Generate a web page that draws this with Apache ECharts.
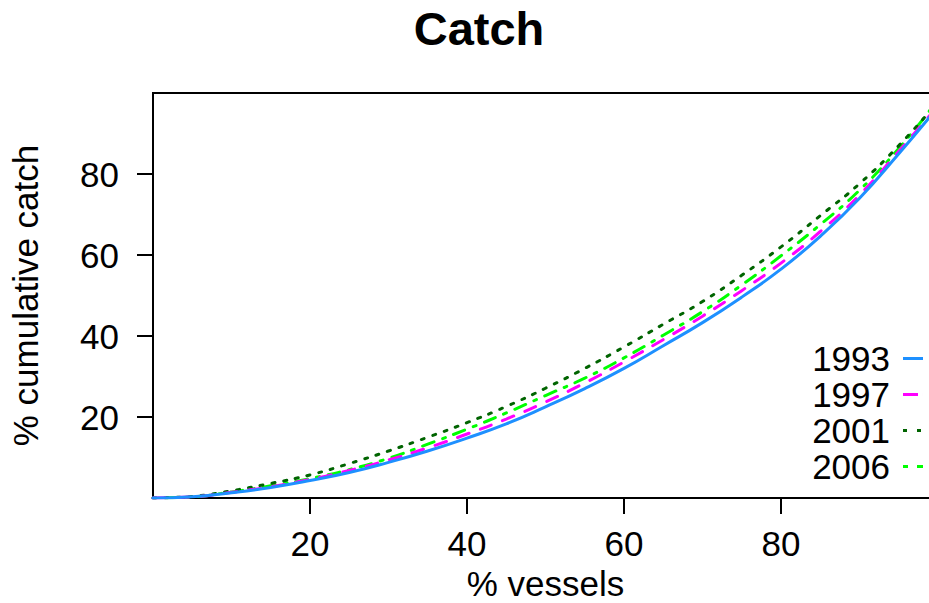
<!DOCTYPE html>
<html>
<head>
<meta charset="utf-8">
<script src="https://cdn.jsdelivr.net/npm/echarts@6/dist/echarts.min.js"></script>
<style>
html,body{margin:0;padding:0;background:#fff;}
#chart{width:929px;height:603px;}
</style>
</head>
<body>
<div id="chart"></div>
<script>
// % vessels (x positions of read points)
var xs = [0, 5, 10, 15, 20, 25, 30, 35, 40, 45, 50, 55, 60, 65, 70, 75, 80, 85, 90, 95, 99];
var y1993 = [0, 0.3, 1.3, 2.6, 4.3, 6.3, 8.8, 11.6, 14.8, 18.3, 22.5, 27.0, 32.0, 37.6, 43.3, 49.6, 56.5, 64.6, 74.0, 85.0, 94.2];
var y1997 = [0, 0.3, 1.4, 2.8, 4.6, 6.8, 9.4, 12.4, 15.8, 19.5, 23.7, 28.4, 33.6, 39.1, 44.9, 51.2, 58.0, 65.8, 74.8, 85.6, 94.6];
var y2001 = [0, 0.4, 1.8, 3.6, 5.7, 8.5, 11.6, 15.0, 18.6, 22.6, 27.1, 32.0, 37.3, 42.9, 48.5, 55.0, 62.0, 69.7, 77.6, 87.0, 95.6];
var y2006 = [0, 0.3, 1.5, 3.0, 4.8, 7.0, 9.8, 13.3, 17.0, 21.0, 25.3, 29.6, 34.6, 40.2, 46.0, 52.6, 59.8, 67.5, 76.0, 86.3, 95.8];
var seriesNames = ['1993', '1997', '2001', '2006'];
var tickValues = [20, 40, 60, 80];
var titleText = 'Catch';
var xName = '% vessels';
var yName = '% cumulative catch';

var FONT = "'Liberation Sans', Arial, Helvetica, sans-serif";
var colors = ['#1E90FF', '#FF00FF', '#006400', '#00FF00'];
var dashes = ['solid', [12, 12], [3, 9], [3, 9, 12, 9]];
// legend line samples (as in the reference: solid, one dash, two dots, two short dashes)
var legendIcons = [
  'path://M0,0h20v3h-20z',
  'path://M0,0h15v3h-15zM19.99,0h0.01v3h-0.01z',
  'path://M0,0h4v3h-4zM14,0h4v3h-4zM19.99,0h0.01v3h-0.01z',
  'path://M0,0h5v3h-5zM14,0h6v3h-6z'
];
var allY = [y1993, y1997, y2001, y2006];

function pairs(ys) { return xs.map(function (x, i) { return [x, ys[i]]; }); }

var series = seriesNames.map(function (n, i) {
  return {
    name: n, type: 'line', data: pairs(allY[i]),
    symbol: 'none', smooth: 0.5,
    lineStyle: { color: colors[i], width: 3, type: dashes[i], cap: 'round' },
    itemStyle: { color: colors[i] },
    z: 10 - i, animation: false
  };
});

var chart = echarts.init(document.getElementById('chart'), null, { renderer: 'svg' });
chart.setOption({
  animation: false,
  backgroundColor: '#ffffff',
  title: {
    text: titleText, left: 474, top: 0, textAlign: 'center',
    textStyle: { fontFamily: FONT, fontWeight: 'bold', fontSize: 47, color: '#000' }
  },
  grid: {
    left: 153, top: 93, right: -9, bottom: 105,
    outerBoundsMode: 'none', containLabel: false,
    show: true, borderColor: '#000', borderWidth: 2, backgroundColor: 'transparent'
  },
  legend: {
    orient: 'vertical', right: 6, top: 341, align: 'right',
    itemWidth: 20, itemHeight: 3, itemGap: 1, padding: 0,
    textStyle: { fontFamily: FONT, fontSize: 35, color: '#000', padding: [0, 8, 0, 0] },
    data: seriesNames.map(function (n, i) { return { name: n, icon: legendIcons[i] }; })
  },
  xAxis: {
    type: 'value', min: 0, max: 100, interval: 20,
    name: xName, nameLocation: 'middle', nameGap: 71,
    nameTextStyle: { fontFamily: FONT, fontSize: 35, color: '#000', lineHeight: 28 },
    splitLine: { show: false },
    axisLine: { show: true, lineStyle: { color: '#000', width: 2 } },
    axisTick: { show: true, length: 16, lineStyle: { color: '#000', width: 2 }, customValues: tickValues },
    axisLabel: { fontFamily: FONT, fontSize: 35, color: '#000', margin: 28, customValues: tickValues }
  },
  yAxis: {
    type: 'value', min: 0, max: 100, interval: 20,
    name: yName, nameLocation: 'middle', nameGap: 110, nameRotate: 90,
    nameTextStyle: { fontFamily: FONT, fontSize: 35, color: '#000' },
    splitLine: { show: false },
    axisLine: { show: true, lineStyle: { color: '#000', width: 2 } },
    axisTick: { show: true, length: 16, lineStyle: { color: '#000', width: 2 }, customValues: tickValues },
    axisLabel: { fontFamily: FONT, fontSize: 35, color: '#000', margin: 34, customValues: tickValues }
  },
  series: series
});
</script>
</body>
</html>
